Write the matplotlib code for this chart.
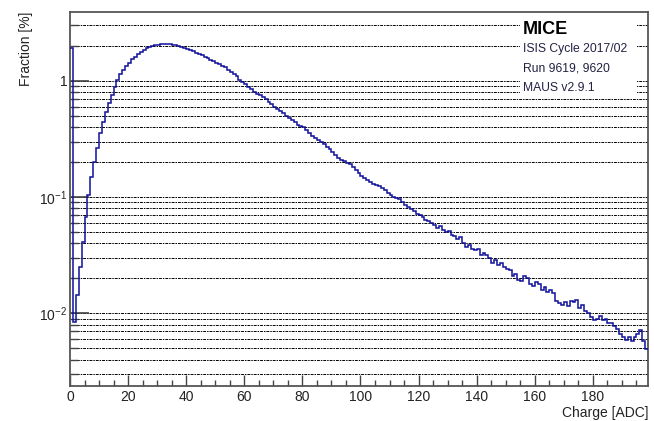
import numpy as np
import matplotlib.pyplot as plt
import matplotlib.ticker as tk
from matplotlib.patches import Rectangle

plt.rcParams['font.family'] = ['Liberation Sans', 'DejaVu Sans']
plt.rcParams['mathtext.fontset'] = 'custom'
plt.rcParams['mathtext.rm'] = 'Liberation Sans'
plt.rcParams['mathtext.it'] = 'Liberation Sans'

# charge histogram, one bin per ADC count, fraction in %
edges = np.arange(0, 200, 1)
frac = [
    1.90, 0.0085, 0.0145, 0.025, 0.041, 0.068, 0.104, 0.150, 0.201, 0.262,
    0.353, 0.444, 0.541, 0.639, 0.753, 0.888, 1.01, 1.14, 1.24, 1.34,
    1.43, 1.53, 1.61, 1.70, 1.77, 1.84, 1.90, 1.95, 1.99, 2.02,
    2.04, 2.05, 2.06, 2.06, 2.05, 2.04, 2.02, 1.99, 1.95, 1.91,
    1.88, 1.83, 1.79, 1.73, 1.69, 1.65, 1.61, 1.57, 1.52, 1.47,
    1.43, 1.39, 1.34, 1.30, 1.24, 1.19, 1.14, 1.09, 1.02, 0.985,
    0.93, 0.89, 0.85, 0.80, 0.775, 0.75, 0.72, 0.69, 0.66, 0.63,
    0.60, 0.575, 0.55, 0.525, 0.50, 0.48, 0.46, 0.44, 0.42, 0.405,
    0.397, 0.38, 0.355, 0.335, 0.325, 0.31, 0.295, 0.283, 0.27, 0.258,
    0.245, 0.232, 0.215, 0.208, 0.205, 0.196, 0.192, 0.180, 0.170, 0.161,
    0.153, 0.146, 0.141, 0.135, 0.130, 0.126, 0.124, 0.120, 0.114, 0.109,
    0.105, 0.101, 0.098, 0.096, 0.091, 0.086, 0.082, 0.079, 0.076, 0.072,
    0.070, 0.067, 0.064, 0.062, 0.060, 0.058, 0.054, 0.056, 0.052, 0.050,
    0.051, 0.047, 0.046, 0.044, 0.045, 0.040, 0.037, 0.039, 0.036, 0.035,
    0.036, 0.032, 0.033, 0.032, 0.030, 0.027, 0.029, 0.026, 0.027, 0.025,
    0.024, 0.0235, 0.021, 0.022, 0.0195, 0.019, 0.021, 0.020, 0.018, 0.0172,
    0.0185, 0.0178, 0.016, 0.0168, 0.0152, 0.0158, 0.0150, 0.0128, 0.0122, 0.0118,
    0.0125, 0.0116, 0.0127, 0.0124, 0.0129, 0.0112, 0.0118, 0.0104, 0.0100, 0.0093,
    0.0088, 0.0090, 0.0094, 0.0087, 0.0089, 0.0083, 0.0082, 0.0078, 0.0074, 0.0066,
    0.0062, 0.0059, 0.0063, 0.0058, 0.0062, 0.0066, 0.0072, 0.0058, 0.0049,
]
ytick_pos = [1e-2, 1e-1, 1]
ytick_lab = [r'$10^{-2}$', r'$10^{-1}$', '1']
info = ['ISIS Cycle 2017/02', 'Run 9619, 9620', 'MAUS v2.9.1']

fig = plt.figure(figsize=(6.54, 4.21), dpi=100)
ax = fig.add_axes([0.107, 0.083, 0.884, 0.8885])

ax.stairs(frac, edges, baseline=None, color='#10109a', lw=1.1, zorder=3)

ax.set_yscale('log')
ax.set_xlim(0, 199)
ax.set_ylim(0.00237, 3.9)

# grid on every log tick (major and minor), horizontal only
ax.yaxis.set_major_locator(tk.FixedLocator(ytick_pos))
ax.yaxis.set_major_formatter(tk.FixedFormatter(ytick_lab))
ax.yaxis.set_minor_locator(tk.LogLocator(base=10, subs=np.arange(2, 10)))
ax.yaxis.set_minor_formatter(tk.NullFormatter())
ax.yaxis.grid(True, which='both', color='k', lw=0.7, ls=(0, (3, 1, 1.5, 1)), zorder=1)

ax.xaxis.set_major_locator(tk.MultipleLocator(20))
ax.xaxis.set_minor_locator(tk.MultipleLocator(5))

ax.tick_params(which='both', direction='in', colors='#444444', labelcolor='#222222', labelsize=10)
ax.tick_params(axis='y', which='major', length=14, width=1.2, pad=2)
ax.tick_params(axis='y', which='minor', length=6, width=1.0)
ax.tick_params(axis='x', which='major', length=8, width=1.0, pad=3)
ax.tick_params(axis='x', which='minor', length=4, width=1.0)
[sp.set_linewidth(1.3) for sp in ax.spines.values()]
[sp.set_color('#555555') for sp in ax.spines.values()]

ax.set_xlabel('Charge [ADC]', loc='right', fontsize=10, color='#222222', labelpad=1)
ax.set_ylabel('Fraction [%]', loc='top', fontsize=10, color='#222222', labelpad=4)

# white label box in the top right corner
ax.add_patch(Rectangle((0.779, 0.778), 0.202, 0.215, transform=ax.transAxes,
                       facecolor='white', edgecolor='none', zorder=4))
ax.text(0.784, 0.952, 'MICE', transform=ax.transAxes, fontsize=13, fontweight='bold',
        ha='left', va='center', zorder=5)
for i, s in enumerate(info):
    ax.text(0.784, 0.902 - i * 0.052, s, transform=ax.transAxes, fontsize=8.7,
            color='#222244', ha='left', va='center', zorder=5)

plt.savefig('out.png', dpi=100)
